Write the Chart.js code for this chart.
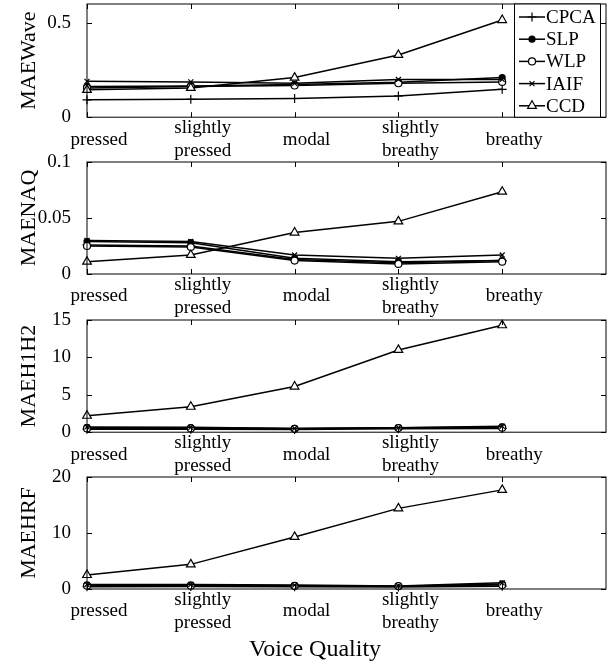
<!DOCTYPE html>
<html lang="en">
<head>
<meta charset="UTF-8">
<title>MAE by voice quality</title>
<script src="https://cdn.jsdelivr.net/npm/chart.js"></script>
<style>
  body { margin: 0; background: #fff; }
  #wrap { position: relative; width: 616px; height: 666px; overflow: hidden; }
  .panel { position: absolute; left: 0; width: 616px; }
  #xtitle {
    position: absolute; left: 7px; width: 616px; top: 635px;
    text-align: center;
    font-family: "Liberation Serif", "Times New Roman", serif; font-size: 24px; color: #000;
  }
</style>
</head>
<body>
<div id="wrap">
  <div class="panel" id="p0"><canvas id="c0"></canvas></div>
  <div class="panel" id="p1"><canvas id="c1"></canvas></div>
  <div class="panel" id="p2"><canvas id="c2"></canvas></div>
  <div class="panel" id="p3"><canvas id="c3"></canvas></div>
  <div id="xtitle">Voice Quality</div>
</div>

<script>
// categories along x (1..5), axis runs to 6
const qualities = [['pressed'], ['slightly', 'pressed'], ['modal'], ['slightly', 'breathy'], ['breathy']];
const methods = ['CPCA', 'SLP', 'WLP', 'IAIF', 'CCD'];
const metricNames = ['MAEWave', 'MAENAQ', 'MAEH1H2', 'MAEHRF'];

// values per metric, rows in the order of `methods`
const maeWave = [
  [0.092, 0.095, 0.099, 0.113, 0.148],
  [0.163, 0.165, 0.173, 0.185, 0.210],
  [0.155, 0.163, 0.168, 0.180, 0.187],
  [0.190, 0.187, 0.180, 0.200, 0.200],
  [0.145, 0.155, 0.210, 0.330, 0.515]
];
const maeNAQ = [
  [0.026, 0.025, 0.013, 0.010, 0.012],
  [0.029, 0.028, 0.014, 0.011, 0.012],
  [0.025, 0.024, 0.012, 0.009, 0.011],
  [0.030, 0.029, 0.017, 0.014, 0.017],
  [0.011, 0.017, 0.037, 0.047, 0.0735]
];
const maeH1H2 = [
  [0.40, 0.40, 0.35, 0.45, 0.50],
  [0.60, 0.60, 0.50, 0.60, 0.70],
  [0.50, 0.50, 0.45, 0.55, 0.60],
  [0.70, 0.65, 0.50, 0.60, 0.80],
  [2.2, 3.4, 6.1, 11.0, 14.3]
];
const maeHRF = [
  [0.40, 0.45, 0.40, 0.35, 0.50],
  [0.70, 0.70, 0.60, 0.50, 0.90],
  [0.60, 0.60, 0.55, 0.50, 0.70],
  [0.80, 0.80, 0.70, 0.55, 1.10],
  [2.5, 4.4, 9.3, 14.4, 17.7]
];

const waveTicks = [0, 0.5];
const naqTicks = [0, 0.05, 0.1];
const h1h2Ticks = [0, 5, 10, 15];
const hrfTicks = [0, 10, 20];
const yMax = [0.6, 0.1, 15, 20];

const allValues = [maeWave, maeNAQ, maeH1H2, maeHRF];
const allTicks = [waveTicks, naqTicks, h1h2Ticks, hrfTicks];

// plot box top/bottom on the page
const boxes = [[3.5, 116.7], [162, 274], [319.5, 431.7], [477, 589]];
const PAD_TOP = 24, XAXIS_H = 50, YAXIS_W = 87;

const markers = [
  { pointStyle: 'cross', radius: 4.5, fill: '#000' },
  { pointStyle: 'circle', radius: 3, fill: '#000' },
  { pointStyle: 'circle', radius: 3.5, fill: '#fff' },
  { pointStyle: 'crossRot', radius: 3.5, fill: '#000' },
  { pointStyle: 'triangle', radius: 5, fill: '#fff' }
];

Chart.defaults.font.family = '"Liberation Serif", "Times New Roman", serif';
Chart.defaults.color = '#000';

// box with inward ticks, matlab style
const boxPlugin = {
  id: 'box',
  afterDraw(chart) {
    const { ctx, chartArea: a, scales } = chart;
    ctx.save();
    ctx.strokeStyle = '#000';
    ctx.lineWidth = 1;
    ctx.strokeRect(a.left, a.top, a.right - a.left, a.bottom - a.top);
    ctx.beginPath();
    scales.x.ticks.forEach(t => {
      if (t.value >= 6) return;
      const px = Math.round(scales.x.getPixelForValue(t.value)) + 0.5;
      ctx.moveTo(px, a.bottom); ctx.lineTo(px, a.bottom - 5);
      ctx.moveTo(px, a.top); ctx.lineTo(px, a.top + 5);
    });
    scales.y.ticks.forEach(t => {
      const py = Math.round(scales.y.getPixelForValue(t.value)) + 0.5;
      ctx.moveTo(a.left, py); ctx.lineTo(a.left + 5, py);
      ctx.moveTo(a.right, py); ctx.lineTo(a.right - 5, py);
    });
    ctx.stroke();
    ctx.restore();
  }
};

// legend box drawn inside the first panel
const legendPlugin = {
  id: 'boxLegend',
  afterDraw(chart, args, opts) {
    if (!opts.show) return;
    const { ctx, chartArea: a } = chart;
    const x0 = 514, x1 = 600;
    ctx.save();
    ctx.fillStyle = '#fff';
    ctx.fillRect(x0, a.top, x1 - x0, a.bottom - a.top);
    ctx.strokeStyle = '#000';
    ctx.lineWidth = 1;
    ctx.strokeRect(x0 + 0.5, a.top, x1 - x0, a.bottom - a.top);
    ctx.font = '19px "Liberation Serif", "Times New Roman", serif';
    ctx.textBaseline = 'middle';
    chart.data.datasets.forEach((ds, i) => {
      const y = a.top + 13 + i * 22.2;
      ctx.strokeStyle = '#000';
      ctx.lineWidth = 1.5;
      ctx.beginPath();
      ctx.moveTo(519, y); ctx.lineTo(545, y);
      ctx.stroke();
      ctx.fillStyle = ds.pointBackgroundColor;
      ctx.lineWidth = 1.2;
      Chart.helpers.drawPoint(ctx, { pointStyle: ds.pointStyle, radius: ds.pointRadius, rotation: 0, borderWidth: 1.2 }, 532, y);
      ctx.fillStyle = '#000';
      ctx.fillText(ds.label, 546, y + 1);
    });
    ctx.restore();
  }
};

allValues.forEach((vals, k) => {
  const [top, bottom] = boxes[k];
  const panel = document.getElementById('p' + k);
  const h = (bottom - top) + PAD_TOP + XAXIS_H;
  panel.style.top = (top - PAD_TOP) + 'px';
  panel.style.height = h + 'px';

  const datasets = methods.map((m, i) => ({
    label: m,
    data: vals[i].map((v, j) => ({ x: j + 1, y: v })),
    borderColor: '#000',
    borderWidth: 1.5,
    pointStyle: markers[i].pointStyle,
    pointRadius: markers[i].radius,
    pointBackgroundColor: markers[i].fill,
    pointBorderColor: '#000',
    pointBorderWidth: 1.2,
    tension: 0,
    clip: false,
    order: methods.length - i
  }));

  new Chart(document.getElementById('c' + k), {
    type: 'line',
    data: { datasets },
    options: {
      responsive: true,
      maintainAspectRatio: false,
      animation: false,
      layout: { padding: { top: PAD_TOP, right: 10, bottom: 0, left: 0 } },
      plugins: {
        legend: { display: false },
        tooltip: { enabled: false },
        boxLegend: { show: k === 0 }
      },
      scales: {
        x: {
          type: 'linear',
          min: 1,
          max: 6,
          grid: { display: false },
          border: { display: false },
          afterBuildTicks: s => { s.ticks = [1, 2, 3, 4, 5].map(v => ({ value: v })); },
          afterFit: s => { s.height = XAXIS_H; },
          ticks: {
            font: { size: 19 },
            padding: 3,
            labelOffset: 12,
            crossAlign: 'center',
            maxRotation: 0,
            autoSkip: false,
            callback: v => qualities[v - 1]
          }
        },
        y: {
          min: 0,
          max: yMax[k],
          grid: { display: false },
          border: { display: false },
          afterBuildTicks: s => { s.ticks = allTicks[k].map(v => ({ value: v })); },
          afterFit: s => { s.width = YAXIS_W; },
          ticks: { font: { size: 19 }, padding: 8, callback: v => String(v) },
          title: {
            display: true,
            text: metricNames[k],
            font: { size: 22 },
            padding: { top: 16, bottom: 0 }
          }
        }
      }
    },
    plugins: [boxPlugin, legendPlugin]
  });
});
</script>
</body>
</html>
